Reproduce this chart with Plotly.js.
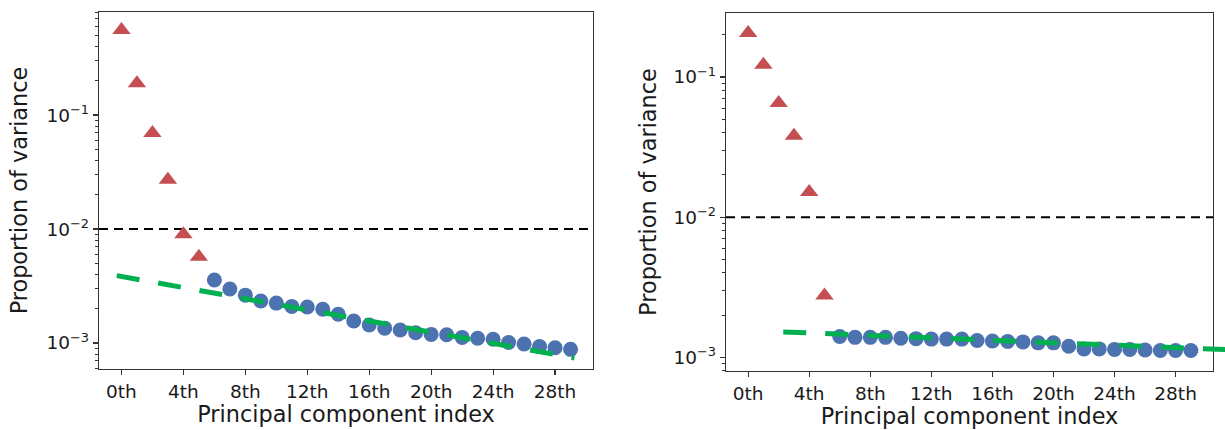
<!DOCTYPE html>
<html>
<head>
<meta charset="utf-8">
<script src="https://cdn.plot.ly/plotly-3.0.1.min.js"></script>
<style>html,body{margin:0;padding:0;background:#fff;}#chart{width:1225px;height:430px;}</style>
</head>
<body>
<div id="chart"></div>
<script>
// ---- data ----
const tickVals = [0, 4, 8, 12, 16, 20, 24, 28];
const tickLabels = ["0th", "4th", "8th", "12th", "16th", "20th", "24th", "28th"];

const yTickVals = [0.001, 0.01, 0.1];
const yTickLabels = ["10<sup>−3</sup>", "10<sup>−2</sup>", "10<sup>−1</sup>"];

const topIdx = [0, 1, 2, 3, 4, 5];
const restIdx = [6, 7, 8, 9, 10, 11, 12, 13, 14, 15, 16, 17, 18, 19, 20, 21, 22, 23, 24, 25, 26, 27, 28, 29];

const leftTop = [0.557, 0.19, 0.0695, 0.027, 0.0090, 0.0057];
const leftRest = [0.00357, 0.00298, 0.00263, 0.00234, 0.00224, 0.00209, 0.00207, 0.00198,
                  0.00179, 0.00156, 0.00144, 0.00135, 0.00130, 0.00123, 0.00119, 0.00118,
                  0.00112, 0.00110, 0.00108, 0.00101, 0.00098, 0.00093, 0.00091, 0.00088];
const leftFitX = [-0.3, 29.25];
const leftFitY = [0.0039, 0.00074];

const rightTop = [0.206, 0.122, 0.0653, 0.0381, 0.0151, 0.00276];
const rightRest = [0.00141, 0.00139, 0.00139, 0.00139, 0.00137, 0.00136, 0.00135, 0.00135,
                   0.00135, 0.00132, 0.00131, 0.00130, 0.00129, 0.00127, 0.00127, 0.00120,
                   0.00115, 0.00115, 0.00114, 0.00114, 0.00113, 0.00112, 0.00112, 0.00112];
const rightFitX = [2.3, 31.4];
const rightFitY = [0.00152, 0.001135];

const threshold = 0.01;

// minor log tick positions (2..9 within each decade)
const minorTickVals = [0.0006, 0.0007, 0.0008, 0.0009,
                       0.002, 0.003, 0.004, 0.005, 0.006, 0.007, 0.008, 0.009,
                       0.02, 0.03, 0.04, 0.05, 0.06, 0.07, 0.08, 0.09,
                       0.2, 0.3, 0.4, 0.5, 0.6, 0.7, 0.8, 0.9];

// ---- styling ----
const RED = '#c44e52', BLUE = '#4c72b0', GREEN = '#00b050';
const FONT = 'DejaVu Sans';
const TXT = '#1a1a1a';

const xRange = [-1.45, 30.45];
const leftYRange = [-3.228, -0.096];
const rightYRange = [-3.097, -0.544];

const W = 1225, H = 430, mL = 99, mR = 0, mT = 12, mB = 59;
const pw = W - mL - mR;
const xDomL = [0, 494 / pw];
const xDomR = [627 / pw, 1114 / pw];
const xDom3 = [627 / pw, 1];
const x3End = xRange[0] + (xRange[1] - xRange[0]) * (xDom3[1] - xDom3[0]) / (xDomR[1] - xDomR[0]);
const ph = H - mT - mB;
const yDomL = [2 / ph, 1];
const yDomR = [0, (ph - 1) / ph];

function tri(x, y, xa, ya) {
  return {x, y, xaxis: xa, yaxis: ya, type: 'scatter', mode: 'markers', showlegend: false,
    marker: {symbol: 'triangle-up', size: 16, color: RED, line: {width: 0}}};
}
function dots(x, y, xa, ya) {
  return {x, y, xaxis: xa, yaxis: ya, type: 'scatter', mode: 'markers', showlegend: false,
    marker: {symbol: 'circle', size: 15, color: BLUE, line: {width: 0}}};
}
function fit(x, y, xa, ya) {
  return {x, y, xaxis: xa, yaxis: ya, type: 'scatter', mode: 'lines', showlegend: false,
    line: {color: GREEN, width: 5, dash: '23px,19px'}};
}

const traces = [
  tri(topIdx, leftTop, 'x', 'y'),
  dots(restIdx, leftRest, 'x', 'y'),
  fit(leftFitX, leftFitY, 'x', 'y'),
  tri(topIdx, rightTop, 'x2', 'y2'),
  dots(restIdx, rightRest, 'x2', 'y2'),
  fit(rightFitX, rightFitY, 'x3', 'y3')
];

function xax(domain, anchor) {
  return {domain, anchor, range: xRange, tickmode: 'array', tickvals: tickVals, ticktext: tickLabels,
    ticks: 'outside', ticklen: 5, tickwidth: 1.2, tickcolor: '#333',
    showline: true, mirror: true, linecolor: '#333', linewidth: 1.3,
    showgrid: false, zeroline: false,
    tickfont: {family: FONT, size: 18.5, color: TXT},
    title: {text: 'Principal component index', font: {family: FONT, size: 22.4, color: TXT}, standoff: 4}};
}
function yax(domain, anchor, range, standoff) {
  return {domain, anchor, type: 'log', range,
    tickmode: 'array', tickvals: yTickVals, ticktext: yTickLabels,
    ticks: 'outside', ticklen: 5, tickwidth: 1.2, tickcolor: '#333',
    minor: {tickmode: 'array', tickvals: minorTickVals, ticks: 'outside', ticklen: 3,
            tickwidth: 1, tickcolor: '#333', showgrid: false},
    showline: true, mirror: true, linecolor: '#333', linewidth: 1.3,
    showgrid: false, zeroline: false,
    tickfont: {family: FONT, size: 18.5, color: TXT},
    title: {text: 'Proportion of variance', font: {family: FONT, size: 22.4, color: TXT}, standoff}};
}

const layout = {
  width: W, height: H,
  margin: {l: mL, r: mR, t: mT, b: mB},
  paper_bgcolor: '#fff', plot_bgcolor: 'rgba(0,0,0,0)',
  showlegend: false,
  xaxis: xax(xDomL, 'y'),
  yaxis: yax(yDomL, 'x', leftYRange, 12),
  xaxis2: xax(xDomR, 'y2'),
  yaxis2: yax(yDomR, 'x2', rightYRange, 10),
  xaxis3: {domain: xDom3, anchor: 'y3', range: [xRange[0], x3End], visible: false},
  yaxis3: {domain: yDomR, anchor: 'x3', type: 'log', range: rightYRange, visible: false},
  shapes: [
    {type: 'line', xref: 'x domain', yref: 'y', x0: 0, x1: 1, y0: threshold, y1: threshold,
     line: {color: '#000', width: 2, dash: '9px,6px'}, layer: 'below'},
    {type: 'line', xref: 'x2 domain', yref: 'y2', x0: 0, x1: 1, y0: threshold, y1: threshold,
     line: {color: '#000', width: 2, dash: '9px,6px'}, layer: 'below'}
  ]
};

Plotly.newPlot('chart', traces, layout, {staticPlot: true, displayModeBar: false});
</script>
</body>
</html>
